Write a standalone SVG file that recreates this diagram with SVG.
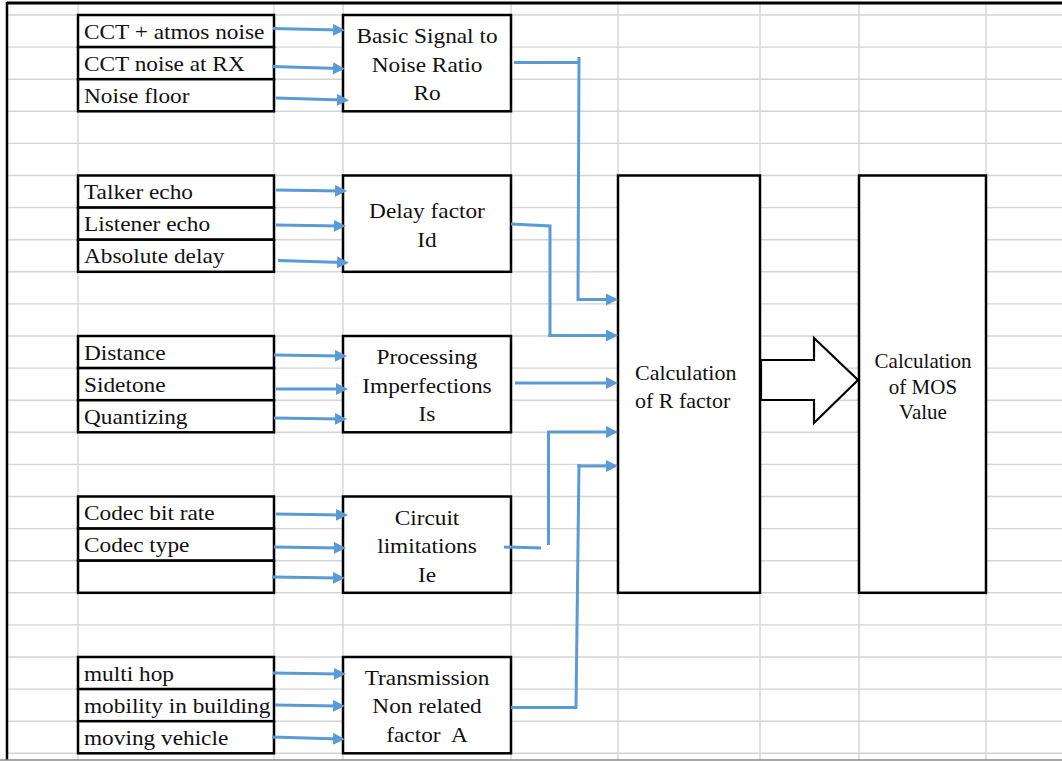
<svg xmlns="http://www.w3.org/2000/svg" width="1062" height="761" viewBox="0 0 1062 761">
<defs>
<style>
.grid line{stroke:#d4d4d4;stroke-width:1.4}
.cell{fill:#fff;stroke:#000;stroke-width:2.5}
.blk{fill:#fff;stroke:#000;stroke-width:2.2}
.t{font-family:"Liberation Serif","Times New Roman",serif;font-size:21px;fill:#111}
.tm{font-family:"Liberation Serif","Times New Roman",serif;font-size:21px;fill:#111;text-anchor:middle}
.tr{font-family:"Liberation Serif","Times New Roman",serif;font-size:22px;fill:#111}
.conn path{fill:none;stroke:#5b9bd5;stroke-width:3}
.arr{marker-end:url(#ah)}
</style>
<marker id="ah" markerUnits="userSpaceOnUse" markerWidth="13" markerHeight="13" refX="6" refY="6" orient="auto">
<path d="M0,0 L12,6 L0,12 z" fill="#5b9bd5"/>
</marker>
</defs>
<rect x="0" y="0" width="1062" height="761" fill="#fff"/>
<g class="grid" id="grid">
<line x1="7" y1="15" x2="1062" y2="15"/>
<line x1="7" y1="47.1" x2="1062" y2="47.1"/>
<line x1="7" y1="79.2" x2="1062" y2="79.2"/>
<line x1="7" y1="111.3" x2="1062" y2="111.3"/>
<line x1="7" y1="143.4" x2="1062" y2="143.4"/>
<line x1="7" y1="175.5" x2="1062" y2="175.5"/>
<line x1="7" y1="207.6" x2="1062" y2="207.6"/>
<line x1="7" y1="239.7" x2="1062" y2="239.7"/>
<line x1="7" y1="271.8" x2="1062" y2="271.8"/>
<line x1="7" y1="303.9" x2="1062" y2="303.9"/>
<line x1="7" y1="336" x2="1062" y2="336"/>
<line x1="7" y1="368.1" x2="1062" y2="368.1"/>
<line x1="7" y1="400.2" x2="1062" y2="400.2"/>
<line x1="7" y1="432.3" x2="1062" y2="432.3"/>
<line x1="7" y1="464.4" x2="1062" y2="464.4"/>
<line x1="7" y1="496.5" x2="1062" y2="496.5"/>
<line x1="7" y1="528.6" x2="1062" y2="528.6"/>
<line x1="7" y1="560.7" x2="1062" y2="560.7"/>
<line x1="7" y1="592.8" x2="1062" y2="592.8"/>
<line x1="7" y1="624.9" x2="1062" y2="624.9"/>
<line x1="7" y1="657" x2="1062" y2="657"/>
<line x1="7" y1="689.1" x2="1062" y2="689.1"/>
<line x1="7" y1="721.2" x2="1062" y2="721.2"/>
<line x1="7" y1="753.3" x2="1062" y2="753.3"/>
<line x1="78" y1="3" x2="78" y2="760"/>
<line x1="274" y1="3" x2="274" y2="760"/>
<line x1="343" y1="3" x2="343" y2="760"/>
<line x1="511" y1="3" x2="511" y2="760"/>
<line x1="618" y1="3" x2="618" y2="760"/>
<line x1="760" y1="3" x2="760" y2="760"/>
<line x1="859" y1="3" x2="859" y2="760"/>
<line x1="986" y1="3" x2="986" y2="760"/>
</g>
<g id="frame">
<line x1="7" y1="3" x2="1062" y2="3" stroke="#000" stroke-width="3"/>
<line x1="7" y1="2" x2="7" y2="760" stroke="#000" stroke-width="2.5"/>
<line x1="0" y1="760" x2="1062" y2="760" stroke="#8a8a8a" stroke-width="1.5"/>
</g>

<g id="in-snr">
<rect class="cell" x="78" y="15" width="196" height="32.1"/>
<rect class="cell" x="78" y="47.1" width="196" height="32.1"/>
<rect class="cell" x="78" y="79.2" width="196" height="32.1"/>
<text class="t" transform="matrix(1.11,0,0,1,84,38.5)">CCT + atmos noise</text>
<text class="t" transform="matrix(1.11,0,0,1,84,70.6)">CCT noise at RX</text>
<text class="t" transform="matrix(1.11,0,0,1,84,102.7)">Noise floor</text>
</g>
<g id="in-delay">
<rect class="cell" x="78" y="175.5" width="196" height="32.1"/>
<rect class="cell" x="78" y="207.6" width="196" height="32.1"/>
<rect class="cell" x="78" y="239.7" width="196" height="32.1"/>
<text class="t" transform="matrix(1.11,0,0,1,84,199)">Talker echo</text>
<text class="t" transform="matrix(1.11,0,0,1,84,231.1)">Listener echo</text>
<text class="t" transform="matrix(1.11,0,0,1,84,263.2)">Absolute delay</text>
</g>
<g id="in-proc">
<rect class="cell" x="78" y="336" width="196" height="32.1"/>
<rect class="cell" x="78" y="368.1" width="196" height="32.1"/>
<rect class="cell" x="78" y="400.2" width="196" height="32.1"/>
<text class="t" transform="matrix(1.11,0,0,1,84,359.5)">Distance</text>
<text class="t" transform="matrix(1.11,0,0,1,84,391.6)">Sidetone</text>
<text class="t" transform="matrix(1.11,0,0,1,84,423.7)">Quantizing</text>
</g>
<g id="in-circuit">
<rect class="cell" x="78" y="496.5" width="196" height="32.1"/>
<rect class="cell" x="78" y="528.6" width="196" height="32.1"/>
<rect class="cell" x="78" y="560.7" width="196" height="32.1"/>
<text class="t" transform="matrix(1.11,0,0,1,84,520)">Codec bit rate</text>
<text class="t" transform="matrix(1.11,0,0,1,84,552.1)">Codec type</text>
</g>
<g id="in-trans">
<rect class="cell" x="78" y="657" width="196" height="32.1"/>
<rect class="cell" x="78" y="689.1" width="196" height="32.1"/>
<rect class="cell" x="78" y="721.2" width="196" height="32.1"/>
<text class="t" transform="matrix(1.11,0,0,1,84,680.5)">multi hop</text>
<text class="t" transform="matrix(1.11,0,0,1,84,712.6)">mobility in building</text>
<text class="t" transform="matrix(1.11,0,0,1,84,744.7)">moving vehicle</text>
</g>

<g id="snr">
<rect class="cell" x="343" y="15" width="168" height="96.3"/>
<text class="tm" transform="matrix(1.11,0,0,1,427,43)">Basic Signal to</text>
<text class="tm" transform="matrix(1.11,0,0,1,427,71.5)">Noise Ratio</text>
<text class="tm" transform="matrix(1.11,0,0,1,427,100)">Ro</text>
</g>
<g id="delay">
<rect class="cell" x="343" y="175.5" width="168" height="96.3"/>
<text class="tm" transform="matrix(1.11,0,0,1,427,218)">Delay factor</text>
<text class="tm" transform="matrix(1.11,0,0,1,427,246.5)">Id</text>
</g>
<g id="proc">
<rect class="cell" x="343" y="336" width="168" height="96.3"/>
<text class="tm" transform="matrix(1.11,0,0,1,427,364)">Processing</text>
<text class="tm" transform="matrix(1.11,0,0,1,427,392.5)">Imperfections</text>
<text class="tm" transform="matrix(1.11,0,0,1,427,421)">Is</text>
</g>
<g id="circuit">
<rect class="cell" x="343" y="496.5" width="168" height="96.3"/>
<text class="tm" transform="matrix(1.11,0,0,1,427,524.5)">Circuit</text>
<text class="tm" transform="matrix(1.11,0,0,1,427,553)">limitations</text>
<text class="tm" transform="matrix(1.11,0,0,1,427,581.5)">Ie</text>
</g>
<g id="trans">
<rect class="cell" x="343" y="657" width="168" height="96.3"/>
<text class="tm" transform="matrix(1.11,0,0,1,427,684.5)">Transmission</text>
<text class="tm" transform="matrix(1.11,0,0,1,427,713)">Non related</text>
<text class="tm" transform="matrix(1.11,0,0,1,427,741.5)" xml:space="preserve">factor  A</text>
</g>

<g id="rfactor">
<rect class="cell" x="618" y="175.5" width="142" height="417.3"/>
<text class="tr" x="635" y="380">Calculation</text>
<text class="tr" x="635" y="408">of R factor</text>
</g>
<g id="mos">
<rect class="cell" x="859" y="175.5" width="127" height="417.3"/>
<text class="tm" x="923" y="368">Calculation</text>
<text class="tm" x="923" y="393.5">of MOS</text>
<text class="tm" x="923" y="419">Value</text>
</g>
<g id="block-arrow">
<polygon class="blk" points="761,360 814,360 814,338 858,380 814,423 814,400 761,400"/>
</g>

<g class="conn" id="connectors">
<path class="arr" d="M273,28.5 L339,30"/>
<path class="arr" d="M272,66.5 L339,68.5"/>
<path class="arr" d="M276,98 L343,100"/>
<path class="arr" d="M276,190 L341,191"/>
<path class="arr" d="M276,225 L340,226"/>
<path class="arr" d="M278,260.5 L343,262.5"/>
<path class="arr" d="M274,355 L341,356"/>
<path class="arr" d="M276,389 L342,389"/>
<path class="arr" d="M274,418 L341,419"/>
<path class="arr" d="M276,514 L342,515"/>
<path class="arr" d="M274,547 L340,548"/>
<path class="arr" d="M272,577 L339,578"/>
<path class="arr" d="M273,673 L340,674"/>
<path class="arr" d="M275,705 L339,706"/>
<path class="arr" d="M272,737 L339,739"/>
<path d="M514,62.5 H580.5 M579,57 L578,301"/>
<path class="arr" d="M577,299.5 H612"/>
<path d="M511,224 L550,226 V337"/>
<path class="arr" d="M548.5,335.5 H612"/>
<path class="arr" d="M515,383 H612"/>
<path d="M504,547 L541,548 M548.5,545 V432"/>
<path class="arr" d="M547,432 H612"/>
<path d="M511,707.5 H576 L579,464"/>
<path class="arr" d="M577.5,466 H612"/>
</g>
</svg>
